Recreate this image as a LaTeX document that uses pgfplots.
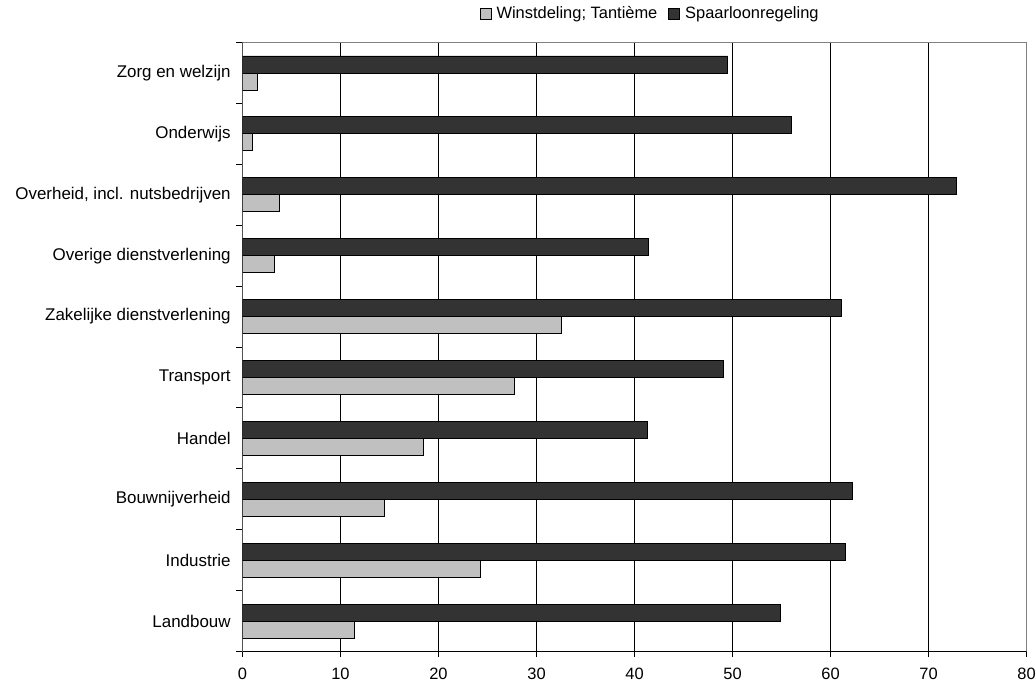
\documentclass[border=0pt]{standalone}
\usepackage{fontspec}
\setmainfont{Liberation Sans}
\usepackage{pgfplots}
\pgfplotsset{compat=1.18}
\definecolor{lightbar}{HTML}{C0C0C0}
\definecolor{darkbar}{HTML}{333333}
\begin{document}
\fontsize{17}{19}\selectfont
\begin{tikzpicture}
\path[use as bounding box] (0,0) rectangle (1036bp,685bp);
\begin{axis}[
  at={(242.5bp,33.5bp)}, anchor=south west,
  scale only axis, width=784bp, height=609bp,
  xmin=0, xmax=80, ymin=-0.5, ymax=9.5,
  xtick={0,10,...,80},
  ytick={0,...,9},
  yticklabels={Landbouw,Industrie,Bouwnijverheid,Handel,Transport,Zakelijke dienstverlening,Overige dienstverlening,{Overheid, incl. nutsbedrijven},Onderwijs,Zorg en welzijn},
  minor ytick={-0.5,0.5,...,9.5},
  major y tick style={draw=none},
  minor y tick style={black, line width=0.8bp},
  minor tick length=6bp,
  major tick length=5bp,
  tick align=outside,
  xtick pos=bottom, ytick pos=left,
  x tick style={black, line width=0.8bp},
  xmajorgrids, grid style={black, line width=0.8bp},
  axis line style={draw=gray, line width=1bp},
  /pgf/number format/assume math mode=true,
  yticklabel style={font=\fontsize{17}{19}\selectfont, xshift=-1bp},
  xticklabel style={font=\fontsize{16.5}{19}\selectfont, yshift=-6bp},
  xbar, bar width=17bp,
  legend style={at={(0.52,1.047)}, anchor=center, draw=none, fill=none,
    legend columns=2, font=\fontsize{16.5}{19}\selectfont,
    /tikz/every odd column/.append style={column sep=3bp},
    /tikz/every even column/.append style={column sep=9bp},
    inner sep=0pt},
  legend cell align=left,
  legend image code/.code={\draw[#1,draw=black,line width=0.8bp] (0bp,-5.5bp) rectangle (11bp,5.5bp);},
]
\addplot[fill=lightbar, draw=black, line width=0.8bp, bar shift=-8.5bp] coordinates {
(11.4,0) (24.3,1) (14.5,2) (18.5,3) (27.7,4) (32.5,5) (3.3,6) (3.8,7) (1.0,8) (1.5,9)};
\addplot[fill=darkbar, draw=black, line width=0.8bp, bar shift=8.5bp] coordinates {
(54.9,0) (61.5,1) (62.2,2) (41.3,3) (49.1,4) (61.1,5) (41.4,6) (72.8,7) (56.0,8) (49.5,9)};
\legend{Winstdeling; Tantième, Spaarloonregeling}
\draw[black, line width=1bp] (axis cs:0,-0.5) -- (axis cs:0,9.5);
\draw[black, line width=1bp] (axis cs:0,-0.5) -- (axis cs:80,-0.5);
\end{axis}
\end{tikzpicture}
\end{document}
